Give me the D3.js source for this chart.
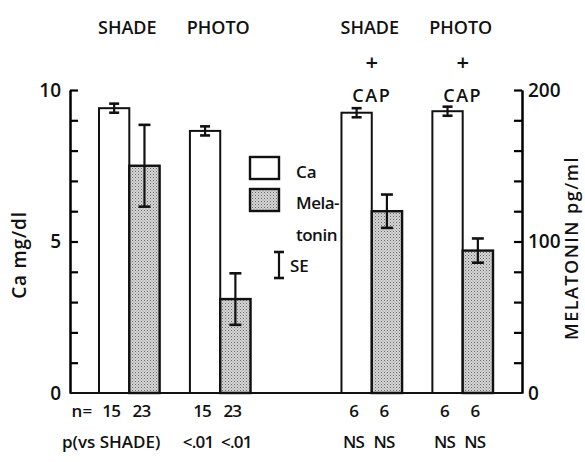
<!DOCTYPE html>
<html>
<head>
  <meta charset="utf-8">
  <title>Ca and melatonin</title>
  <script src="https://cdn.jsdelivr.net/npm/d3@7/dist/d3.min.js"></script>
  <style>
    body { margin: 0; background: #fff; }
    text { font-family: "Open Sans", "DejaVu Sans", sans-serif; font-weight: 600; fill: #111; }
  </style>
</head>
<body>
<script>
  // data
  let groups = ['SHADE', 'PHOTO', 'SHADE + CAP', 'PHOTO + CAP'];
  let caMean = [9.4, 8.65, 9.25, 9.3];
  let caSE = [0.15, 0.15, 0.15, 0.15];
  let melMean = [150, 62, 120, 94];
  let melSE = [27, 17, 11, 8];
  let nCa = ['15', '15', '6', '6'];
  let nMel = ['23', '23', '6', '6'];
  let pCa = ['', '<.01', 'NS', 'NS'];
  let pMel = ['', '<.01', 'NS', 'NS'];
  let caTicks = [0, 5, 10];
  let melTicks = [0, 100, 200];

  let width = 585;
  let height = 462;

  let svg = d3.select('body').append('svg')
    .attr('width', width)
    .attr('height', height);

  // stippled fill for melatonin bars
  let pat = svg.append('defs').append('pattern')
    .attr('id', 'dots')
    .attr('width', 3).attr('height', 3)
    .attr('patternUnits', 'userSpaceOnUse');
  pat.append('rect').attr('width', 3).attr('height', 3).attr('fill', '#d6d6d6');
  pat.append('rect').attr('width', 1).attr('height', 1).attr('fill', '#666');
  pat.append('rect').attr('x', 1.5).attr('y', 1.5).attr('width', 1).attr('height', 1).attr('fill', '#888');

  let left = 70, right = 522, y0 = 393, y1 = 90;

  // bar slots: each group = 2 slots, gaps between groups
  let slot = {'SHADE': 0, 'PHOTO': 3, 'SHADE + CAP': 8, 'PHOTO + CAP': 11};
  let x = d3.scaleLinear().domain([0, 13]).range([99, 493]);
  let bw = x(1) - x(0);

  let yCa = d3.scaleLinear().domain([0, 10]).range([y0, y1]);
  let yMel = d3.scaleLinear().domain([0, 200]).range([y0, y1]);

  // tick marks point inward: left axis drawn with axisRight, right with axisLeft
  let tkL = d3.axisRight(yCa).tickValues(d3.range(1, 11)).tickSize(8).tickSizeOuter(0).tickFormat('');
  let tkR = d3.axisLeft(yMel).tickValues(d3.range(20, 201, 20)).tickSize(8).tickSizeOuter(0).tickFormat('');
  let gTL = svg.append('g').attr('transform', `translate(${left},0)`).call(tkL);
  let gTR = svg.append('g').attr('transform', `translate(${right},0)`).call(tkR);

  // number labels
  let axL = d3.axisLeft(yCa).tickValues(caTicks).tickSize(0).tickPadding(9);
  let axR = d3.axisRight(yMel).tickValues(melTicks).tickSize(0).tickPadding(6);
  let gL = svg.append('g').attr('transform', `translate(${left},0)`).call(axL);
  let gR = svg.append('g').attr('transform', `translate(${right},0)`).call(axR);

  [gTL, gTR, gL, gR].forEach(g => {
    g.select('.domain').attr('stroke', '#000').attr('stroke-width', 2);
    g.selectAll('.tick line').attr('stroke', '#000').attr('stroke-width', 2.2);
    g.selectAll('.tick text').attr('font-size', 19).attr('font-family', null).style('fill', '#111');
  });

  // baseline
  svg.append('line')
    .attr('x1', left).attr('x2', right)
    .attr('y1', y0).attr('y2', y0)
    .attr('stroke', '#111').attr('stroke-width', 2.2);

  let rows = groups.map((g, i) => ({g: g, ca: caMean[i], caSE: caSE[i], mel: melMean[i], melSE: melSE[i]}));

  // Ca bars
  svg.selectAll('rect.ca').data(rows).enter().append('rect')
    .attr('class', 'ca')
    .attr('x', d => x(slot[d.g]))
    .attr('y', d => yCa(d.ca))
    .attr('width', bw)
    .attr('height', d => y0 - yCa(d.ca))
    .attr('fill', '#fff').attr('stroke', '#111').attr('stroke-width', 2);

  // melatonin bars
  svg.selectAll('rect.mel').data(rows).enter().append('rect')
    .attr('class', 'mel')
    .attr('x', d => x(slot[d.g] + 1))
    .attr('y', d => yMel(d.mel))
    .attr('width', bw)
    .attr('height', d => y0 - yMel(d.mel))
    .attr('fill', 'url(#dots)').attr('stroke', '#111').attr('stroke-width', 2.4);

  function errBar(cx, yt, yb, cap) {
    let g = svg.append('g').attr('stroke', '#111').attr('stroke-width', 2.2);
    g.append('line').attr('x1', cx).attr('x2', cx).attr('y1', yt).attr('y2', yb);
    g.append('line').attr('x1', cx - cap).attr('x2', cx + cap).attr('y1', yt).attr('y2', yt).attr('stroke-width', 2.6);
    g.append('line').attr('x1', cx - cap).attr('x2', cx + cap).attr('y1', yb).attr('y2', yb).attr('stroke-width', 2.6);
  }
  rows.forEach(d => {
    errBar(x(slot[d.g] + 0.5), yCa(d.ca + d.caSE), yCa(d.ca - d.caSE), 5);
    errBar(x(slot[d.g] + 1.5), yMel(d.mel + d.melSE), yMel(d.mel - d.melSE), 6);
  });

  // group headers
  let heads = groups.map(g => g.split(' + '));
  heads.forEach((h, i) => {
    let cx = x(slot[groups[i]] + 1);
    svg.append('text').attr('text-anchor', 'middle').attr('font-size', 18).attr('font-weight', 700)
      .attr('x', cx - 2).attr('y', 34).text(h[0]);
    if (h.length > 1) {
      svg.append('text').attr('text-anchor', 'middle').attr('font-size', 22).attr('font-weight', 700)
        .attr('x', cx).attr('y', 70).text('+');
      svg.append('text').attr('text-anchor', 'middle').attr('font-size', 18)
        .attr('letter-spacing', 1.5)
        .attr('x', cx).attr('y', 102).text(h[1]);
    }
  });

  // n and p rows
  rows.forEach((d, i) => {
    let s = slot[d.g];
    [[nCa[i], s + 0.5, 417, 0], [nMel[i], s + 1.5, 417, 0], [pCa[i], s + 0.5, 448, -4], [pMel[i], s + 1.5, 448, 4]]
      .forEach(r => {
        svg.append('text').attr('text-anchor', 'middle').attr('font-size', 17)
          .attr('letter-spacing', -0.8)
          .attr('x', x(r[1]) - 3 + (r[0].startsWith('<') ? r[3] : 0)).attr('y', r[2]).text(r[0]);
      });
  });
  svg.append('text').attr('text-anchor', 'end').attr('font-size', 17)
    .attr('x', x(0.5) - 22).attr('y', 417).text('n=');
  svg.append('text').attr('text-anchor', 'start').attr('font-size', 17)
    .attr('x', 62).attr('y', 448).text('p(vs SHADE)');

  // axis titles
  svg.append('text').attr('font-size', 19).attr('text-anchor', 'middle')
    .attr('letter-spacing', 0.8)
    .attr('transform', 'translate(26,255) rotate(-90)').text('Ca   mg/dl');
  svg.append('text').attr('font-size', 18).attr('text-anchor', 'middle')
    .attr('letter-spacing', 1.5)
    .attr('transform', 'translate(578,248) rotate(-90)').text('MELATONIN  pg/ml');

  // legend
  let lg = svg.append('g');
  lg.append('rect').attr('x', 250).attr('y', 157).attr('width', 29).attr('height', 22)
    .attr('fill', '#fff').attr('stroke', '#111').attr('stroke-width', 2.4);
  lg.append('rect').attr('x', 250).attr('y', 189).attr('width', 29).attr('height', 22)
    .attr('fill', 'url(#dots)').attr('stroke', '#111').attr('stroke-width', 2.4);
  lg.append('text').attr('x', 296).attr('y', 178).attr('font-size', 17).text('Ca');
  lg.append('text').attr('x', 296).attr('y', 209).attr('font-size', 17).attr('letter-spacing', -0.5).text('Mela-');
  lg.append('text').attr('x', 296).attr('y', 241).attr('font-size', 17).attr('letter-spacing', -0.5).text('tonin');
  errBar(279, 252, 278, 5);
  lg.append('text').attr('x', 290).attr('y', 272).attr('font-size', 17).text('SE');
</script>
</body>
</html>
